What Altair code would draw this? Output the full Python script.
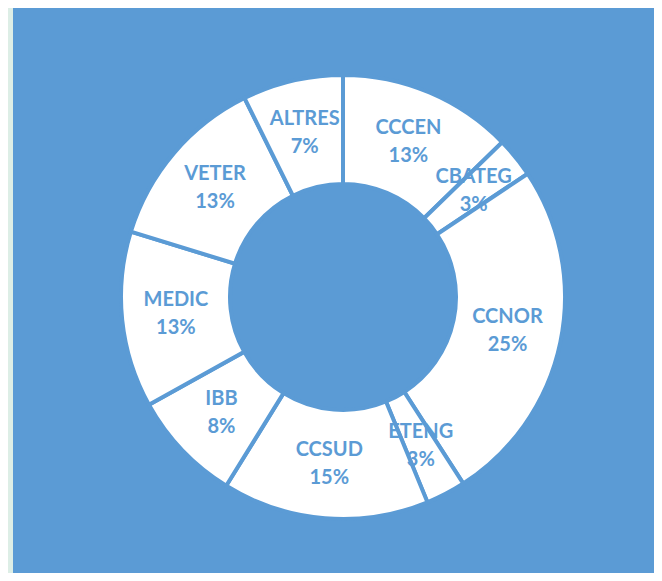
import altair as alt
import pandas as pd

categories = ["CCCEN", "CBATEG", "CCNOR", "ETENG", "CCSUD", "IBB", "MEDIC", "VETER", "ALTRES"]
values = [12.7, 2.9, 25.2, 2.9, 15.0, 8.1, 12.8, 12.9, 7.3]
pct_labels = ["13%", "3%", "25%", "3%", "15%", "8%", "13%", "13%", "7%"]

BLUE = "#5B9BD5"

df = pd.DataFrame({
    "cat": categories,
    "val": values,
    "idx": list(range(len(categories))),
    "label": [f"{c}\n{p}" for c, p in zip(categories, pct_labels)],
})

cx, cy = 330, 289

base = alt.Chart(df).encode(
    theta=alt.Theta("val:Q", stack=True),
    order=alt.Order("idx:Q"),
)

arcs = base.mark_arc(
    innerRadius=113, outerRadius=222, fill="white", stroke=BLUE, strokeWidth=4
).encode(x=alt.value(cx), y=alt.value(cy))

labels = base.mark_text(
    radius=168, font="Lato", fontWeight="bold", fontSize=20, color=BLUE,
    lineBreak="\n", lineHeight=28, align="center", baseline="middle", dy=-14
).encode(text="label:N", x=alt.value(cx), y=alt.value(cy))

chart = (arcs + labels).properties(
    width=641, height=565,
    padding={"left": 5, "top": 0, "right": 0, "bottom": 0},
    background="#DDEEE6",
).configure_view(fill=BLUE, stroke=None)

chart.save("out.html", embed_options={"renderer": "svg", "actions": False})
